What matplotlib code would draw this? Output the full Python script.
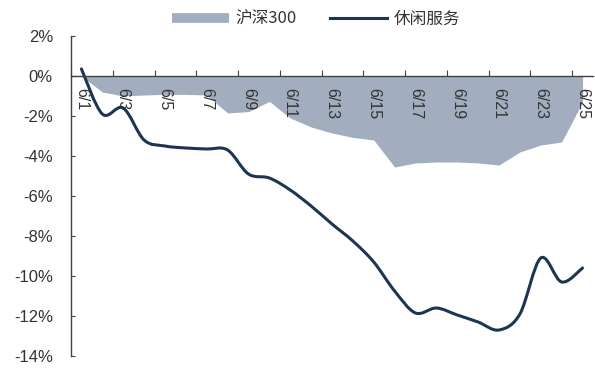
import numpy as np
import matplotlib
matplotlib.use("Agg")
import matplotlib.pyplot as plt
from matplotlib.path import Path
from matplotlib.patches import PathPatch
from matplotlib.lines import Line2D

plt.rcParams['font.family'] = ['Liberation Sans', 'Noto Sans CJK SC', 'DejaVu Sans']

# daily dates, 6/1 .. 6/25
dates = [f"6/{d}" for d in range(1, 26)]

# cumulative change, %
hs300 = [0.0, -0.8, -1.0, -0.95, -0.92, -0.92, -0.95, -1.85, -1.78, -1.27,
         -2.1, -2.55, -2.85, -3.07, -3.2, -4.55, -4.35, -4.3, -4.3, -4.35,
         -4.45, -3.8, -3.45, -3.3, -1.3]
leisure = [0.35, -1.9, -1.6, -3.2, -3.5, -3.6, -3.65, -3.7, -4.9, -5.1,
           -5.7, -6.5, -7.4, -8.25, -9.3, -10.75, -11.85, -11.6, -11.95, -12.3,
           -12.7, -11.9, -9.1, -10.3, -9.6]

yticks = [2, 0, -2, -4, -6, -8, -10, -12, -14]

AREA = '#a2aebf'
NAVY = '#1d3553'


def smooth_path(xs, ys):
    # Catmull-Rom through the points, drawn as cubic Bezier segments
    pts = np.column_stack([xs, ys]).astype(float)
    n = len(pts)
    verts = [pts[0]]
    codes = [Path.MOVETO]
    for i in range(n - 1):
        p0 = pts[i - 1] if i > 0 else pts[i]
        p3 = pts[i + 2] if i + 2 < n else pts[i + 1]
        c1 = pts[i] + (pts[i + 1] - p0) / 6
        c2 = pts[i + 1] - (p3 - pts[i]) / 6
        verts += [c1, c2, pts[i + 1]]
        codes += [Path.CURVE4] * 3
    return Path(verts, codes)


x = np.arange(len(dates))

fig = plt.figure(figsize=(5.95, 3.71), dpi=100)
ax = fig.add_axes([0.1193, 0.0404, 0.8773, 0.8626])

ax.fill_between(x, 0, hs300, color=AREA, lw=0, zorder=1)
ax.add_patch(PathPatch(smooth_path(x, leisure), fill=False, edgecolor=NAVY,
                       lw=2.2, capstyle='round', joinstyle='round', zorder=3))

ax.set_xlim(-0.5, len(dates) - 0.5)
ax.set_ylim(-14, 2)

ax.spines['top'].set_visible(False)
ax.spines['right'].set_visible(False)
ax.spines['bottom'].set_position(('data', 0))
for s in ('left', 'bottom'):
    ax.spines[s].set_color('#404040')
    ax.spines[s].set_linewidth(1.0)
    ax.spines[s].set_zorder(4)

ax.set_yticks(yticks)
ax.set_yticklabels([f"{v}%" for v in yticks])
ax.tick_params(axis='y', direction='in', length=3, color='#404040',
               labelsize=12, labelcolor='#333333', pad=13)

ax.set_xticks(np.arange(-0.5, len(dates), 2), minor=False)
ax.set_xticklabels([])
ax.tick_params(axis='x', which='major', direction='in', length=4,
               color='#404040')
ax.set_xticks(x[::2], minor=True)
ax.set_xticklabels(dates[::2], minor=True, rotation=-90, fontsize=11.5,
                   color='#333333')
ax.tick_params(axis='x', which='minor', length=0, pad=9)
for lbl in ax.get_xticklabels(minor=True):
    lbl.set_verticalalignment('top')
    lbl.set_horizontalalignment('center')

handles = [Line2D([], [], color=AREA, lw=7, solid_capstyle='butt'),
           Line2D([], [], color=NAVY, lw=2.2)]
fig.legend(handles, ['沪深300', '休闲服务'], loc='center',
           bbox_to_anchor=(316 / 595, 1 - 19 / 371), ncol=2, frameon=False,
           prop={'family': ['Noto Sans CJK SC'], 'size': 12},
           handlelength=3.4, handletextpad=0.4, columnspacing=2.0,
           labelcolor='#333333')

fig.savefig('out.png', dpi=100, facecolor='white')
